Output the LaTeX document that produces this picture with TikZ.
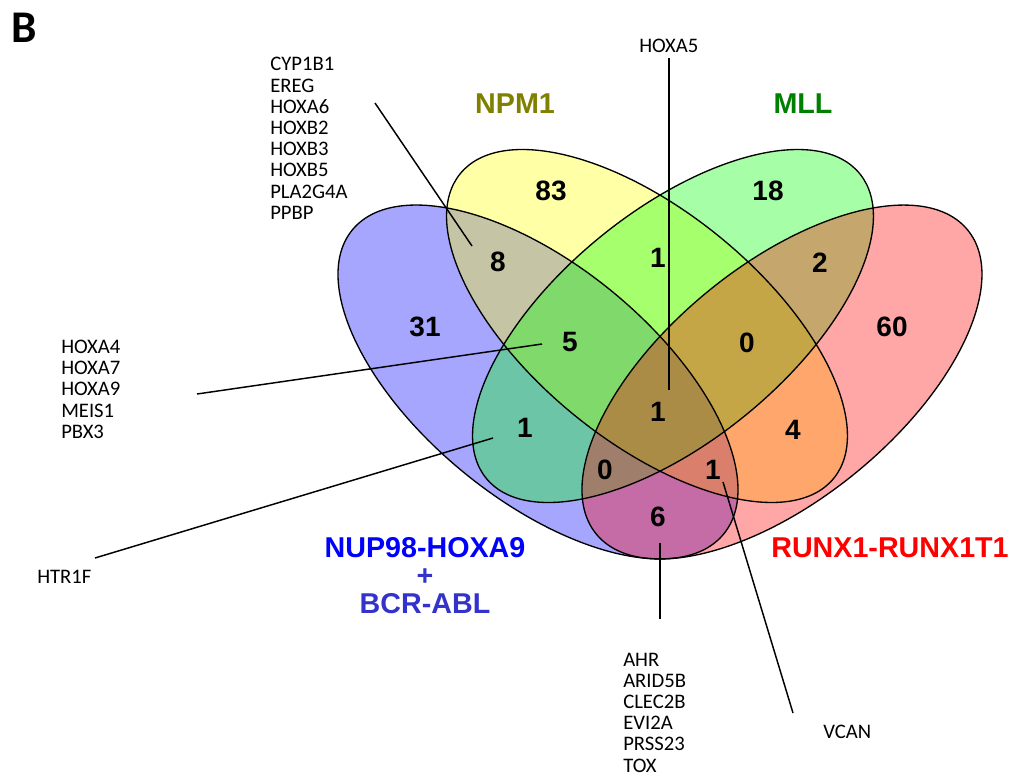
\documentclass[tikz,border=0pt]{standalone}
\usepackage{fontspec}
\usepackage{tikz}
\usetikzlibrary{positioning}
\newfontfamily\vennfont{Liberation Sans}
\newfontfamily\genefont{Carlito}
\definecolor{setblue}{RGB}{0,0,255}
\definecolor{setyellow}{RGB}{255,255,0}
\definecolor{setgreen}{RGB}{0,255,0}
\definecolor{setred}{RGB}{255,0,0}
\definecolor{npmolive}{RGB}{128,128,0}
\definecolor{mllgreen}{RGB}{0,128,0}
\definecolor{bcrblue}{RGB}{51,51,204}
\tikzset{count/.style={font=\vennfont\bfseries\fontsize{21}{21}\selectfont,inner sep=0pt}}
\tikzset{genes/.style={font=\genefont\fontsize{15.5}{15.9}\selectfont,align=left,inner sep=0pt,anchor=base west}}
\tikzset{setname/.style={font=\vennfont\bfseries\fontsize{21.5}{21}\selectfont,inner sep=0pt,align=center,anchor=base}}
\tikzset{pointer/.style={line width=1.1pt}}
\tikzset{rim/.style={line width=1pt}}
\tikzset{tint/.style={fill opacity=0.35}}

\begin{document}
\begin{tikzpicture}[x=0.75pt,y=-0.75pt]
        \useasboundingbox (0,0) rectangle (1017,776);
        % the four sets
        \coordinate (cblue)   at (538,382);
        \coordinate (cyellow) at (647,326);
        \coordinate (cgreen)  at (673,326);
        \coordinate (cred)    at (782,382);
        \fill[setblue,tint,rotate around={-39.3:(cblue)}] (cblue) ellipse [x radius=240, y radius=117];
        \fill[setyellow,tint,rotate around={-39.2:(cyellow)}] (cyellow) ellipse [x radius=241, y radius=115];
        \fill[setgreen,tint,rotate around={39.2:(cgreen)}] (cgreen) ellipse [x radius=241, y radius=115];
        \fill[setred,tint,rotate around={39.3:(cred)}] (cred) ellipse [x radius=240, y radius=117];
        \draw[rim,rotate around={-39.3:(cblue)}] (cblue) ellipse [x radius=240, y radius=117];
        \draw[rim,rotate around={-39.2:(cyellow)}] (cyellow) ellipse [x radius=241, y radius=115];
        \draw[rim,rotate around={39.2:(cgreen)}] (cgreen) ellipse [x radius=241, y radius=115];
        \draw[rim,rotate around={39.3:(cred)}] (cred) ellipse [x radius=240, y radius=117];

        % counts
        \node[count] (n83)   at (551,191) {83};
        \node[count] (n18)   at (768,191) {18};
        \node[count] (n8)    at (498,262) {8};
        \node[count] (n1bc)  at (658,258) {1};
        \node[count] (n2)    at (820,263) {2};
        \node[count] (n31)   at (425,327) {31};
        \node[count] (n5)    at (570,342) {5};
        \node[count] (n0bcd) at (747,343) {0};
        \node[count] (n60)   at (892,327) {60};
        \node[count] (n1ac)  at (525,428) {1};
        \node[count] (n1all) at (658,412) {1};
        \node[count] (n4)    at (793,430) {4};
        \node[count] (n0acd) at (605,470) {0};
        \node[count] (n1abd) at (713,470) {1};
        \node[count] (n6)    at (658,517) {6};

        % set names
        \node[setname,text=npmolive] (npm) at (515,113) {NPM1};
        \node[setname,text=mllgreen] (mll) at (803,113) {MLL};
        \node[setname,text=setblue] (nup) at (425,613) {NUP98-HOXA9\\\textcolor{bcrblue}{+}\\\textcolor{bcrblue}{BCR-ABL}};
        \node[setname,text=setred] (runx) at (890,557) {RUNX1-RUNX1T1};
        \node[font=\genefont\bfseries\fontsize{34}{34}\selectfont,inner sep=0pt] (panel) at (24,28) {B};

        % gene lists
        \node[genes] (cypgenes) at (270,219.2) {CYP1B1\\EREG\\HOXA6\\HOXB2\\HOXB3\\HOXB5\\PLA2G4A\\PPBP};
        \node[genes] (hoxgenes) at (61,438.3) {HOXA4\\HOXA7\\HOXA9\\MEIS1\\PBX3};
        \node[genes] (htrgene)  at (37,583) {HTR1F};
        \node[genes] (hoxa5)    at (639,52) {HOXA5};
        \node[genes] (ahrgenes) at (623,772) {AHR\\ARID5B\\CLEC2B\\EVI2A\\PRSS23\\TOX};
        \node[genes] (vcan)     at (823,738) {VCAN};

        % pointers
        \coordinate (cyptail) at (375,103);
        \coordinate (cyphead) at (472,246);
        \coordinate (hoxtail) at (197,394);
        \coordinate (hoxhead) at (542,344);
        \coordinate (htrtail) at (95,558);
        \coordinate (htrhead) at (493,438);
        \coordinate (a5tail)  at (669,58);
        \coordinate (a5head)  at (669,390);
        \coordinate (ahrtail) at (660,619);
        \coordinate (ahrhead) at (660,543);
        \coordinate (vctail)  at (793,713);
        \coordinate (vchead)  at (723,482);
        \draw[pointer] (cyptail) -- (cyphead);
        \draw[pointer] (hoxtail) -- (hoxhead);
        \draw[pointer] (htrtail) -- (htrhead);
        \draw[pointer] (a5tail) -- (a5head);
        \draw[pointer] (ahrtail) -- (ahrhead);
        \draw[pointer] (vctail) -- (vchead);
\end{tikzpicture}
\end{document}
